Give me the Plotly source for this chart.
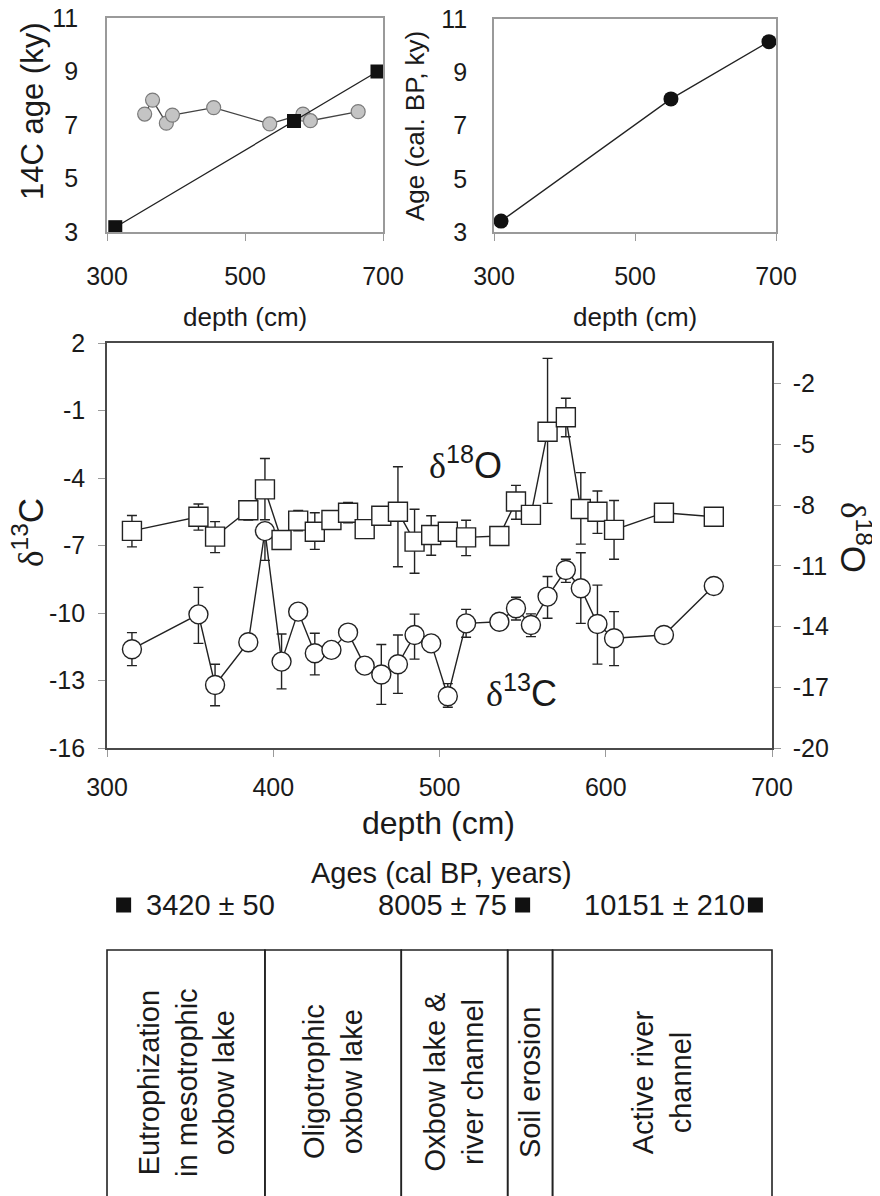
import plotly.graph_objects as go

# ---------------- data ----------------
# top-left panel: 14C ages (grey circles) and calibrated dates (black squares)
c14_depth = [354.6, 366, 386, 394.8, 454.6, 535.8, 584, 594.8, 664]
c14_age = [7.41, 7.93, 7.07, 7.37, 7.65, 7.04, 7.41, 7.16, 7.50]
sq_depth = [312, 571, 692]
sq_age = [3.18, 7.15, 9.0]

# top-right panel: age model
model_depth = [310, 551, 690]
model_age = [3.41, 8.0, 10.15]

# main panel
depth = [315, 355, 365, 385, 395, 405, 415, 425, 435, 445, 455, 465, 475, 485,
         495, 505, 516, 536, 546, 555, 565, 576, 585, 595, 605, 635, 665]
d13c = [-11.61, -10.06, -13.2, -11.3, -6.36, -12.16, -9.94, -11.79, -11.64, -10.87,
        -12.34, -12.73, -12.28, -10.98, -11.35, -13.7, -10.46, -10.39, -9.79, -10.53,
        -9.27, -8.09, -8.9, -10.49, -11.12, -10.98, -8.8]
d13c_err_plus = [0.74, 1.2, 0.92, 0, 0, 1.23, 0, 0.89, 0, 0, 0, 1.33, 1.3, 0.93, 0,
                 0.56, 0.62, 0, 0.49, 0.49, 0.89, 0.48, 1.58, 1.73, 1.18, 0, 0]
d13c_err_minus = [0.73, 1.29, 0.92, 0, 1.3, 1.21, 0, 0.96, 0, 0, 0, 1.33, 1.29, 1.07, 0,
                  0.49, 0.62, 0, 0.52, 0.52, 0.96, 0.55, 1.56, 1.78, 1.22, 0, 0]
d18o = [-9.28, -8.58, -9.56, -8.26, -7.23, -9.73, -8.77, -9.32, -8.74, -8.38, -9.19,
        -8.53, -8.33, -9.81, -9.48, -9.32, -9.6, -9.53, -7.83, -8.49, -4.38, -3.67,
        -8.2, -8.33, -9.23, -8.38, -8.58]
d18o_err_plus = [0.76, 0.63, 0.74, 0, 1.53, 0, 0.5, 0.94, 0, 0.51, 0, 0, 2.22, 1.6,
                 0.95, 0, 0.85, 0, 0.8, 0, 3.62, 0.94, 1.8, 1.02, 1.45, 0, 0]
d18o_err_minus = [0.79, 0.66, 0.79, 0.48, 1.5, 0, 0.5, 0.87, 0, 0.5, 0, 0, 2.72, 1.56,
                  1.0, 0, 0.9, 0, 0.87, 0, 3.54, 0.96, 1.73, 1.07, 1.45, 0, 0]

# tick values
depth_ticks_main = [300, 400, 500, 600, 700]
depth_ticks_top = [300, 500, 700]
age_ticks = [3, 5, 7, 9, 11]
d13c_ticks = [-16, -13, -10, -7, -4, -1, 2]
d18o_ticks = [-20, -17, -14, -11, -8, -5, -2]

# bottom: dates and environmental phases
age_depth = [310, 550, 690]
age_text = ["3420 ± 50", "8005 ± 75", "10151 ± 210"]
phase_bounds = [300, 395, 477, 541, 568, 700]
phase_labels = ["Eutrophization<br>in mesotrophic<br>oxbow lake",
                "Oligotrophic<br>oxbow lake",
                "Oxbow lake &<br>river channel",
                "Soil erosion",
                "Active river<br>channel"]

# ---------------- layout helpers ----------------
OFF = 8                      # default page body margin
W, H = 880 - OFF, 1196 - OFF
SANS = "Arial, Liberation Sans, sans-serif"
INK = "#1a1a1a"


def px(x):
    return (x - OFF) / W


def py(y):
    return 1 - (y - OFF) / H


def note(x, y, text, size, angle=0, xanchor="center", font=SANS, **kw):
    d = dict(xref="paper", yref="paper", x=px(x), y=py(y), text=text, textangle=angle,
             showarrow=False, xanchor=xanchor, yanchor="middle",
             font=dict(size=size, color=INK, family=font))
    d.update(kw)
    return d


fig = go.Figure()

# top-left
fig.add_trace(go.Scatter(x=c14_depth, y=c14_age, xaxis="x3", yaxis="y3", mode="lines+markers",
                         line=dict(color="#444", width=1.3),
                         marker=dict(symbol="circle", size=14, color="#c4c4c4",
                                     line=dict(color="#7a7a7a", width=1.2)), showlegend=False))
fig.add_trace(go.Scatter(x=sq_depth, y=sq_age, xaxis="x3", yaxis="y3", mode="lines+markers",
                         line=dict(color="#222", width=1.3),
                         marker=dict(symbol="square", size=14, color="#111"), showlegend=False))
# top-right
fig.add_trace(go.Scatter(x=model_depth, y=model_age, xaxis="x4", yaxis="y4", mode="lines+markers",
                         line=dict(color="#222", width=1.3),
                         marker=dict(symbol="circle", size=15, color="#111"), showlegend=False))

# main
fig.add_trace(go.Scatter(x=depth, y=d18o, xaxis="x", yaxis="y2", mode="lines+markers",
                         line=dict(color="#222", width=1.4),
                         error_y=dict(type="data", symmetric=False, array=d18o_err_plus,
                                      arrayminus=d18o_err_minus, color="#222", thickness=1.4, width=5),
                         marker=dict(symbol="square", size=19, color="white",
                                     line=dict(color="#222", width=1.4)), showlegend=False))
fig.add_trace(go.Scatter(x=depth, y=d13c, xaxis="x", yaxis="y", mode="lines+markers",
                         line=dict(color="#222", width=1.4),
                         error_y=dict(type="data", symmetric=False, array=d13c_err_plus,
                                      arrayminus=d13c_err_minus, color="#222", thickness=1.4, width=5),
                         marker=dict(symbol="circle", size=19, color="white",
                                     line=dict(color="#222", width=1.4)), showlegend=False))

# bottom: date markers
PANEL_PX = 1196 - 860
BOX_TOP = (1196 - 950) / PANEL_PX
MARK_Y = (1196 - 905) / PANEL_PX
TEXT_Y = (1196 - 1082) / PANEL_PX
fig.add_trace(go.Scatter(x=age_depth, y=[MARK_Y] * len(age_depth), xaxis="x5", yaxis="y5",
                         mode="markers", marker=dict(symbol="square", size=15, color="#111"),
                         showlegend=False))

shapes = []
for i in range(len(phase_labels)):
    shapes.append(dict(type="rect", xref="x5", yref="y5", x0=phase_bounds[i], x1=phase_bounds[i + 1],
                       y0=-0.3, y1=BOX_TOP, line=dict(color="#222", width=1.6), layer="above"))

ann = []
for i, lab in enumerate(phase_labels):
    ann.append(dict(xref="x5", yref="y5", x=(phase_bounds[i] + phase_bounds[i + 1]) / 2, y=TEXT_Y,
                    text=lab, textangle=-90, showarrow=False, xanchor="center", yanchor="middle",
                    font=dict(size=29, color=INK, family=SANS)))

age_anchor = ["left", "right", "right"]
age_shift = [20, -14, -8]
for d, t, a, s in zip(age_depth, age_text, age_anchor, age_shift):
    ann.append(dict(xref="x5", yref="y5", x=d, y=MARK_Y, text=t, xanchor=a, yanchor="middle",
                    xshift=s, showarrow=False, font=dict(size=29, color=INK, family=SANS)))
ann.append(note(441, 873, "Ages (cal BP, years)", 29))

# axis titles
ann.append(note(32, 112, "14C age (ky)", 31, angle=-90))
ann.append(note(415, 126, "Age (cal. BP, ky)", 26, angle=-90))
ann.append(note(245, 317, "depth (cm)", 26))
ann.append(note(635, 317, "depth (cm)", 26))
ann.append(note(438, 823, "depth (cm)", 32))
delta = '<span style="font-family:Liberation Serif">δ</span>'
ann.append(note(28, 533, delta + "<sup>13</sup>C", 35, angle=-90))
ann.append(note(856, 537, delta + "<sup>18</sup>O", 35, angle=90))
ann.append(note(465, 463, delta + "<sup>18</sup>O", 36))
ann.append(note(521, 691, delta + "<sup>13</sup>C", 36))

tick_font = dict(size=25, color=INK, family=SANS)
main_line = dict(showline=True, linecolor="#4a4a4a", linewidth=1.6, showgrid=False, zeroline=False,
                 automargin=False, ticklabeloverflow="allow")
top_line = dict(showline=True, linecolor="#9a9a9a", linewidth=1.5, showgrid=False, zeroline=False,
                mirror=True, automargin=False, ticklabeloverflow="allow")

fig.update_layout(
    width=W, height=H, autosize=False, margin=dict(l=0, r=0, t=0, b=0, autoexpand=False),
    paper_bgcolor="white", plot_bgcolor="white",
    font=dict(family=SANS, color=INK),
    xaxis=dict(domain=[px(107), px(772)], range=[300, 700], tickvals=depth_ticks_main,
               anchor="y", ticks="outside", ticklen=7, tickcolor="#9a9a9a", tickfont=tick_font,
               ticklabelstandoff=9, mirror=True, **main_line),
    yaxis=dict(domain=[py(748), py(343)], range=[-16, 2], tickvals=d13c_ticks,
               ticktext=[str(v) for v in d13c_ticks], anchor="x",
               ticks="outside", ticklen=7, tickcolor="#9a9a9a", tickfont=tick_font,
               ticklabelstandoff=8, **main_line),
    yaxis2=dict(overlaying="y", side="right", anchor="x", range=[-20, 0], tickvals=d18o_ticks,
                ticktext=[str(v) for v in d18o_ticks],
                ticks="outside", ticklen=7, tickcolor="#9a9a9a", tickfont=tick_font,
                ticklabelstandoff=7, **main_line),
    xaxis3=dict(domain=[px(107), px(383)], range=[300, 700], tickvals=depth_ticks_top, anchor="y3",
                ticks="outside", ticklen=7, tickcolor="#9a9a9a", tickfont=tick_font,
                ticklabelstandoff=14, **top_line),
    yaxis3=dict(domain=[py(232), py(18)], range=[3, 11], tickvals=age_ticks, anchor="x3",
                ticks="", tickfont=tick_font, ticklabelstandoff=22, **top_line),
    xaxis4=dict(domain=[px(494), px(776)], range=[300, 700], tickvals=depth_ticks_top, anchor="y4",
                ticks="outside", ticklen=7, tickcolor="#9a9a9a", tickfont=tick_font,
                ticklabelstandoff=14, **top_line),
    yaxis4=dict(domain=[py(232), py(19)], range=[3, 11], tickvals=age_ticks, anchor="x4",
                ticks="", tickfont=tick_font, ticklabelstandoff=20, **top_line),
    xaxis5=dict(domain=[px(107 - 16.625), px(772 + 16.625)], range=[290, 710], anchor="y5",
                visible=False, automargin=False),
    yaxis5=dict(domain=[0, py(860)], range=[0, 1], anchor="x5", visible=False, automargin=False),
    shapes=shapes, annotations=ann,
)

fig.write_html("out.html")
